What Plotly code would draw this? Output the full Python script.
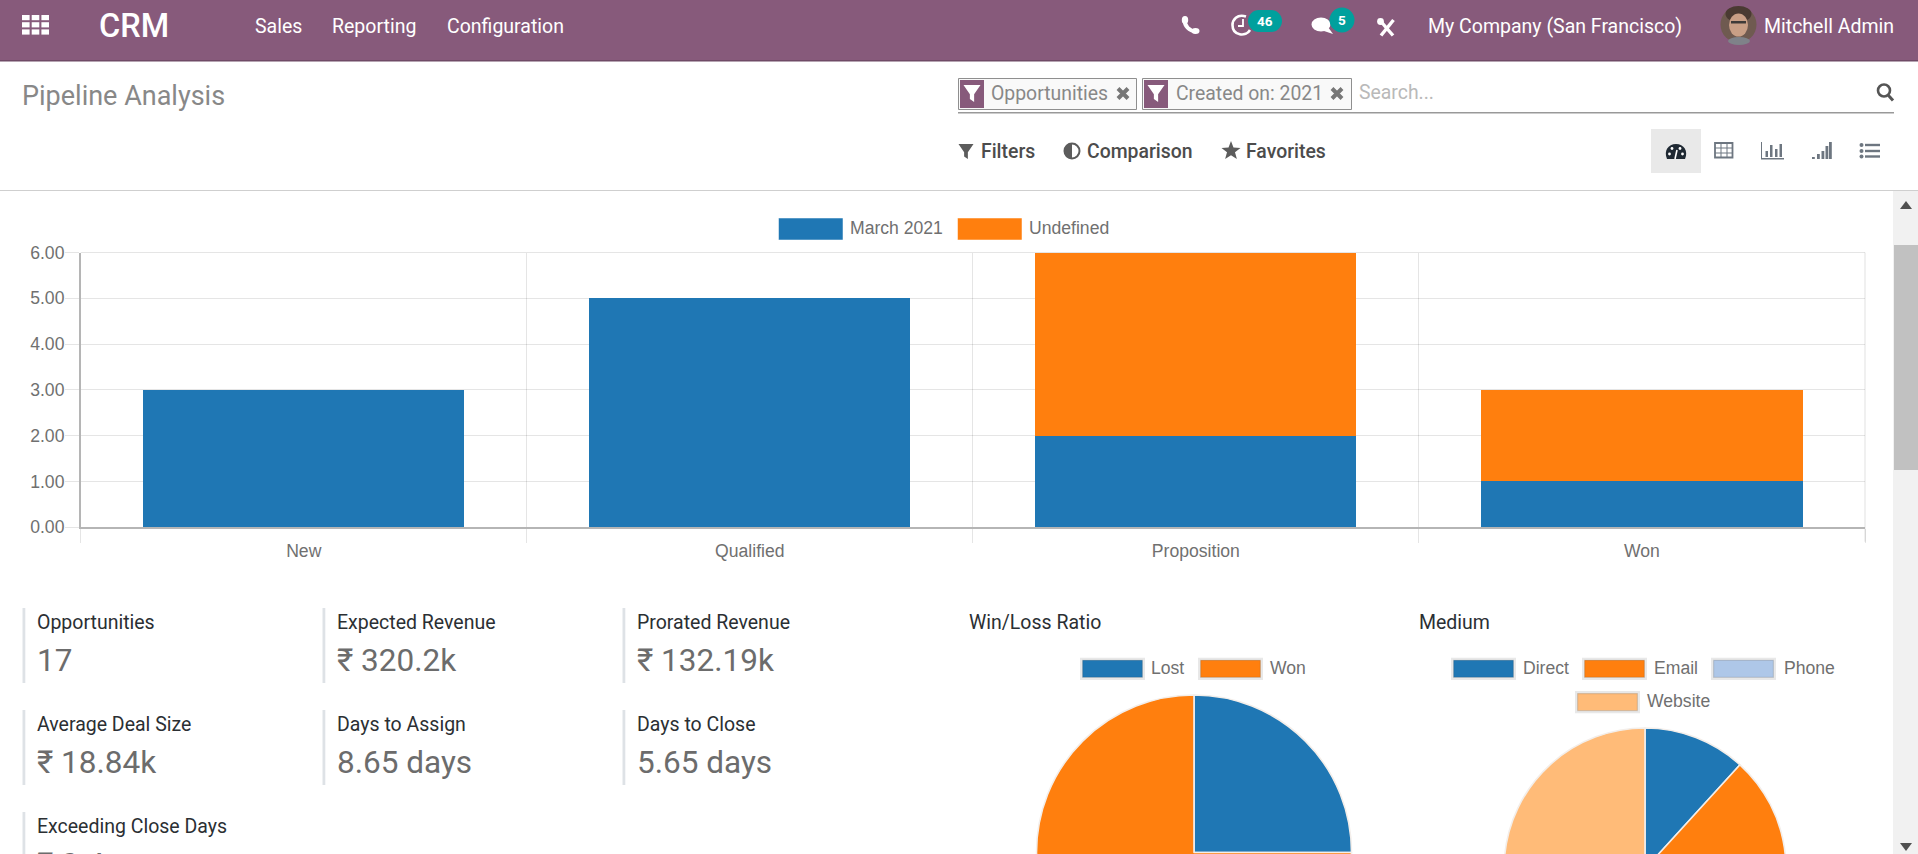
import re
import math
import plotly.graph_objects as go

W, H = 1918, 1020

# ---------- data ----------
stages = ["New", "Qualified", "Proposition", "Won"]
series_names = ["March 2021", "Undefined"]
march_2021 = [3, 5, 2, 1]
undefined = [0, 0, 4, 2]
y_ticks = [0, 1, 2, 3, 4, 5, 6]

win_loss_labels = ["Lost", "Won"]
win_loss_values = [1, 3]
medium_labels = ["Direct", "Email", "Phone", "Website"]
medium_values = [2, 4, 3, 8]

kpi_labels = ["Opportunities", "Expected Revenue", "Prorated Revenue",
              "Average Deal Size", "Days to Assign", "Days to Close",
              "Exceeding Close Days"]
kpi_values = ["17", "₹ 320.2k", "₹ 132.19k", "₹ 18.84k", "8.65 days", "5.65 days", "₹ 0.4"]

menu_items = ["Sales", "Reporting", "Configuration"]

BLUE, ORANGE, LBLUE, LORANGE = "#1f77b4", "#ff7f0e", "#aec7e8", "#ffbb78"
PURPLE, TEAL = "#875a7b", "#00a09d"
GRID = "rgba(0,0,0,0.1)"

shapes, annos = [], []


def X(x):
    return x / W


def Y(y):
    return 1 - y / H


def rect(x0, y0, x1, y1, fill, line=None, lw=0, layer="above"):
    shapes.append(dict(type="rect", xref="paper", yref="paper", x0=X(x0), x1=X(x1), y0=Y(y0), y1=Y(y1),
                       fillcolor=fill, line=dict(color=line or fill, width=lw), layer=layer))


def circle(cx, cy, rx, fill=None, line=None, lw=0, ry=None):
    ry = ry or rx
    shapes.append(dict(type="circle", xref="paper", yref="paper", x0=X(cx - rx), x1=X(cx + rx),
                       y0=Y(cy - ry), y1=Y(cy + ry), fillcolor=fill or "rgba(0,0,0,0)",
                       line=dict(color=line or "rgba(0,0,0,0)", width=lw), layer="above"))


def path(d, fill=None, line=None, lw=0):
    conv = re.sub(r"(-?[\d.]+)[ ,](-?[\d.]+)", lambda m: f"{X(float(m[1])):.6f},{Y(float(m[2])):.6f}", d)
    shapes.append(dict(type="path", xref="paper", yref="paper", path=conv, fillcolor=fill or "rgba(0,0,0,0)",
                       line=dict(color=line or "rgba(0,0,0,0)", width=lw), layer="above"))


def text(x, y, s, size, color, anchor="left", family="Roboto", weight=400):
    annos.append(dict(x=X(x), y=Y(y), xref="paper", yref="paper", text=s, showarrow=False, xanchor=anchor,
                      yanchor="middle", align=anchor, xshift=0, borderpad=0,
                      font=dict(size=size, color=color, family=family, weight=weight)))


def funnel(cx, cy, s, fill):
    path(f"M {cx-s} {cy-s} L {cx+s} {cy-s} L {cx+0.25*s} {cy+0.1*s} L {cx+0.25*s} {cy+s} "
         f"L {cx-0.25*s} {cy+0.65*s} L {cx-0.25*s} {cy+0.1*s} Z", fill=fill)


def cross(cx, cy, s, color):
    path(f"M {cx-s} {cy-s} L {cx+s} {cy+s} M {cx+s} {cy-s} L {cx-s} {cy+s}", line=color, lw=4)


def star(cx, cy, r, fill):
    pts = []
    for i in range(10):
        a = -math.pi / 2 + i * math.pi / 5
        rr = r if i % 2 == 0 else r * 0.42
        pts.append(f"{cx + rr*math.cos(a):.2f} {cy + rr*math.sin(a):.2f}")
    path("M " + " L ".join(pts) + " Z", fill=fill)


# ---------- top bar ----------
rect(0, 0, W, 60, PURPLE)
rect(0, 60, W, 61.5, "#6f4a66")
for r_ in range(3):
    for c_ in range(3):
        rect(22 + c_ * 9.7, 15 + r_ * 7.2, 29.6 + c_ * 9.7, 20.2 + r_ * 7.2, "white")
text(98, 26, "CRM", 32.5, "white", weight=500)
for name, x in zip(menu_items, [254, 331, 445.5]):
    text(x, 26, name, 19.5, "white")
# phone
path("M 1184.5 19.5 C 1184.5 26 1189 31 1196 31.5", line="white", lw=4)
circle(1185, 20, 3.2, fill="white", ry=4)
circle(1195.5, 31, 4, fill="white", ry=3)
# clock
path("M 1246 16.5 C 1237 13.5 1232.5 20 1232.5 25 C 1232.5 36 1246 37 1250 30", line="white", lw=2.6)
path("M 1243 19 L 1243 26 L 1238 26", line="white", lw=1.8)
rect(1260, 10, 1270, 32, TEAL)
circle(1259, 21, 11, fill=TEAL)
circle(1271, 21, 11, fill=TEAL)
text(1264.5, 20.5, "46", 13.5, "white", "center", weight=700)
# chat
circle(1321, 24.5, 9.5, fill="white", ry=7)
path("M 1318 29 L 1333 34 L 1328 27 Z", fill="white")
circle(1342, 20, 12.5, fill=TEAL)
text(1342, 20, "5", 13.5, "white", "center", weight=700)
# tools
path("M 1380.5 21 L 1393 35.5", line="white", lw=3.4)
path("M 1393.5 20 L 1381 35.5", line="white", lw=3.4)
circle(1380.5, 21.5, 3.4, fill="white")
text(1427, 26, "My Company (San Francisco)", 19.5, "white")
# avatar
circle(1738.5, 24.5, 18, fill="#6f5a50")
circle(1738.5, 14, 13, fill="#4a3a32", ry=8)
circle(1738.5, 25, 9.5, fill="#c99f86", ry=11.5)
circle(1739, 41, 11, fill="#7f8289", ry=4)
rect(1731, 21, 1746, 23.5, "#3f3a38")
text(1763, 26, "Mitchell Admin", 19.5, "white")

# ---------- control panel ----------
text(21, 96, "Pipeline Analysis", 27, "#888888")

for x0, x1, xbox, label, xlabel, xmark in [(958, 1137, 984, "Opportunities", 990, 1123),
                                           (1142, 1352, 1168, "Created on: 2021", 1175, 1337)]:
    rect(x0 + 0.5, 78.5, x1 - 0.5, 109.5, "#f9f9f9", "#8f8f8f", 1)
    rect(x0 + 2, 80, xbox, 108, PURPLE)
    funnel((x0 + 2 + xbox) / 2, 93.5, 8.5, "white")
    text(xlabel, 93, label, 19.4, "#888888")
    cross(xmark, 93.5, 5, "#777777")
text(1358, 92, "Search...", 19.4, "#b9b9b9")
rect(958, 112, 1894, 113.5, "#999999")
circle(1884, 90.5, 6, line="#555555", lw=2.6)
path("M 1888.5 95.5 L 1893 100.5", line="#555555", lw=3)

funnel(966, 151.5, 7.5, "#5c5c5c")
text(979.5, 151, "Filters", 19.4, "#4c4c4c", weight=500)
circle(1072, 151, 7.5, fill="white", line="#5c5c5c", lw=2)
path("M 1072 143.5 C 1066 143.5 1064.5 148 1064.5 151 C 1064.5 154 1066 158.5 1072 158.5 Z", fill="#5c5c5c")
text(1086, 151, "Comparison", 19.4, "#4c4c4c", weight=500)
star(1231, 151, 10, "#5c5c5c")
text(1245, 151, "Favorites", 19.4, "#4c4c4c", weight=500)

rect(1651, 129, 1701, 173, "#e9e9e9")
# dashboard icon
path("M 1667 159 C 1663.5 151 1668 144 1676 144 C 1684 144 1688.5 151 1685 159 Z", fill="#1f2933")
for dx, dy in [(1669.5, 154), (1672, 148.5), (1680, 148.5), (1682.5, 154)]:
    circle(dx, dy, 1.4, fill="white")
path("M 1675 159 L 1677 150", line="white", lw=1.6)
# table icon
rect(1715, 143, 1732.5, 157.5, "rgba(0,0,0,0)", "#6d7680", 1.8)
for yy in [147.5, 152.5]:
    rect(1715, yy, 1732.5, yy + 1, "#6d7680")
for xx in [1720.5, 1726.5]:
    rect(xx, 143, xx + 1, 157.5, "#6d7680")
# bar chart icon
rect(1761, 142, 1762, 158, "#6d7680")
rect(1761, 158, 1784, 159.5, "#6d7680")
for xx, top in [(1765.5, 151), (1770, 145), (1775, 149), (1779.5, 144)]:
    rect(xx, top, xx + 2.5, 157, "#6d7680")
# pivot / steps icon
for xx, top in [(1812, 157), (1817, 154), (1821.5, 151), (1825.5, 146), (1829, 142)]:
    rect(xx, top, xx + 2.8, 159, "#6d7680")
# list icon
for yy in [145, 151, 156.5]:
    circle(1861.5, yy, 2, fill="#6d7680")
    rect(1865, yy - 1.2, 1880, yy + 1.2, "#6d7680")

rect(0, 190, W, 191, "#cfcfcf")

# ---------- scrollbar ----------
rect(1893, 191, W, 854, "#f1f1f1")
rect(1894, 245, W, 470, "#c1c1c1")
path("M 1900 209 L 1912 209 L 1906 201 Z", fill="#505050")
path("M 1900 843 L 1912 843 L 1906 851 Z", fill="#505050")

# ---------- legend of the bar chart ----------
for name, color, x0, xt in zip(series_names, [BLUE, ORANGE], [778.5, 957.5], [848.5, 1027.5]):
    rect(x0, 218, x0 + 64.5, 240, color, "rgba(255,255,255,0.5)", 1)
    text(xt, 228, name, 17.6, "#707070", family="Liberation Sans")

# ---------- outer frame lines of the grid that the axes omit ----------
rect(80.7, 251.9, 1865, 253.1, GRID, layer="below")
rect(1864.4, 252.5, 1865.6, 541.7, GRID, layer="below")

# ---------- KPIs ----------
for i, (lab, val) in enumerate(zip(kpi_labels, kpi_values)):
    col, row = i % 3, i // 3
    xb = [22.5, 322.5, 622.5][col]
    yb = 608 + row * 102
    rect(xb, yb, xb + 2.8, yb + 75, "#dee2e6")
    text(xb + 13.2, yb + 14, lab, 19.5, "#2b2f33")
    text(xb + 13.2, yb + 52, val, 31.5, "#6c6c6c", weight=400)

# ---------- pie titles & legends ----------
text(967.5, 622, "Win/Loss Ratio", 19.5, "#2b2f33")
text(1417.5, 622, "Medium", 19.5, "#2b2f33")
pie_legend = [(win_loss_labels[0], BLUE, 1080, 657.7, 1150.3), (win_loss_labels[1], ORANGE, 1198, 657.7, 1268.5),
              (medium_labels[0], BLUE, 1451, 657.7, 1521.8), (medium_labels[1], ORANGE, 1582, 657.7, 1653.3),
              (medium_labels[2], LBLUE, 1711, 657.7, 1782.5), (medium_labels[3], LORANGE, 1575, 691, 1646)]
for name, color, x0, y0, xt in pie_legend:
    rect(x0, y0, x0 + 65, y0 + 22.2, "#e8e8e8")
    rect(x0 + 2.6, y0 + 2.6, x0 + 62.4, y0 + 19.6, color, "rgba(0,0,0,0.12)", 1.2)
    text(xt, y0 + 10.3, name, 17.6, "#707070", family="Liberation Sans")


def pie_domain(cx, cy, r):
    return dict(x=[(cx - r) / W, (cx + r) / W], y=[1 - (cy + r) / H, 1 - (cy - r) / H])


fig = go.Figure()
for name, values, color in zip(series_names, [march_2021, undefined], [BLUE, ORANGE]):
    fig.add_trace(go.Bar(x=stages, y=values, name=name, marker=dict(color=color, line=dict(width=0)),
                         hoverinfo="skip", showlegend=False))
fig.add_trace(go.Pie(labels=win_loss_labels, values=win_loss_values, domain=pie_domain(1194, 852.5, 157.5),
                     sort=False, direction="clockwise", rotation=0, textinfo="none", hoverinfo="skip",
                     showlegend=False, marker=dict(colors=[BLUE, ORANGE], line=dict(color="#f3eeea", width=1.6))))
fig.add_trace(go.Pie(labels=medium_labels, values=medium_values, domain=pie_domain(1645, 869, 141),
                     sort=False, direction="clockwise", rotation=0, textinfo="none", hoverinfo="skip",
                     showlegend=False,
                     marker=dict(colors=[BLUE, ORANGE, LBLUE, LORANGE], line=dict(color="#f3eeea", width=1.6))))

axis_font = dict(family="Liberation Sans", size=17.6, color="#707070")
fig.update_layout(
    width=W, height=H, margin=dict(l=0, r=0, t=0, b=0, autoexpand=False),
    paper_bgcolor="white", plot_bgcolor="white", barmode="stack", bargap=0.28, showlegend=False,
    shapes=shapes, annotations=annos, hovermode=False,
    xaxis=dict(domain=[80.7 / W, 1865 / W], type="category", categoryorder="array", categoryarray=stages,
               tickson="boundaries", ticks="outside", ticklen=14, tickwidth=1.2, tickcolor=GRID,
               ticklabelstandoff=7, showgrid=True, gridcolor=GRID, gridwidth=1.4, showline=True,
               linecolor="#b5b5b5", linewidth=1.5, tickfont=axis_font, anchor="y", fixedrange=True),
    yaxis=dict(domain=[1 - 527.2 / H, 1 - 252.5 / H], range=[0, 6], tickvals=y_ticks, tickformat=".2f",
               ticks="outside", ticklen=14, tickwidth=1.2, tickcolor=GRID, ticklabelstandoff=-3, showgrid=True,
               gridcolor=GRID, gridwidth=1.4, zeroline=False, showline=True, linecolor="#b5b5b5",
               linewidth=1.5, tickfont=axis_font, anchor="x", fixedrange=True),
)

post = ("document.body.style.margin='0';document.body.style.overflow='hidden';"
        "document.documentElement.style.overflow='hidden';")
fig.write_html("out.html", post_script=post, config=dict(displayModeBar=False))
